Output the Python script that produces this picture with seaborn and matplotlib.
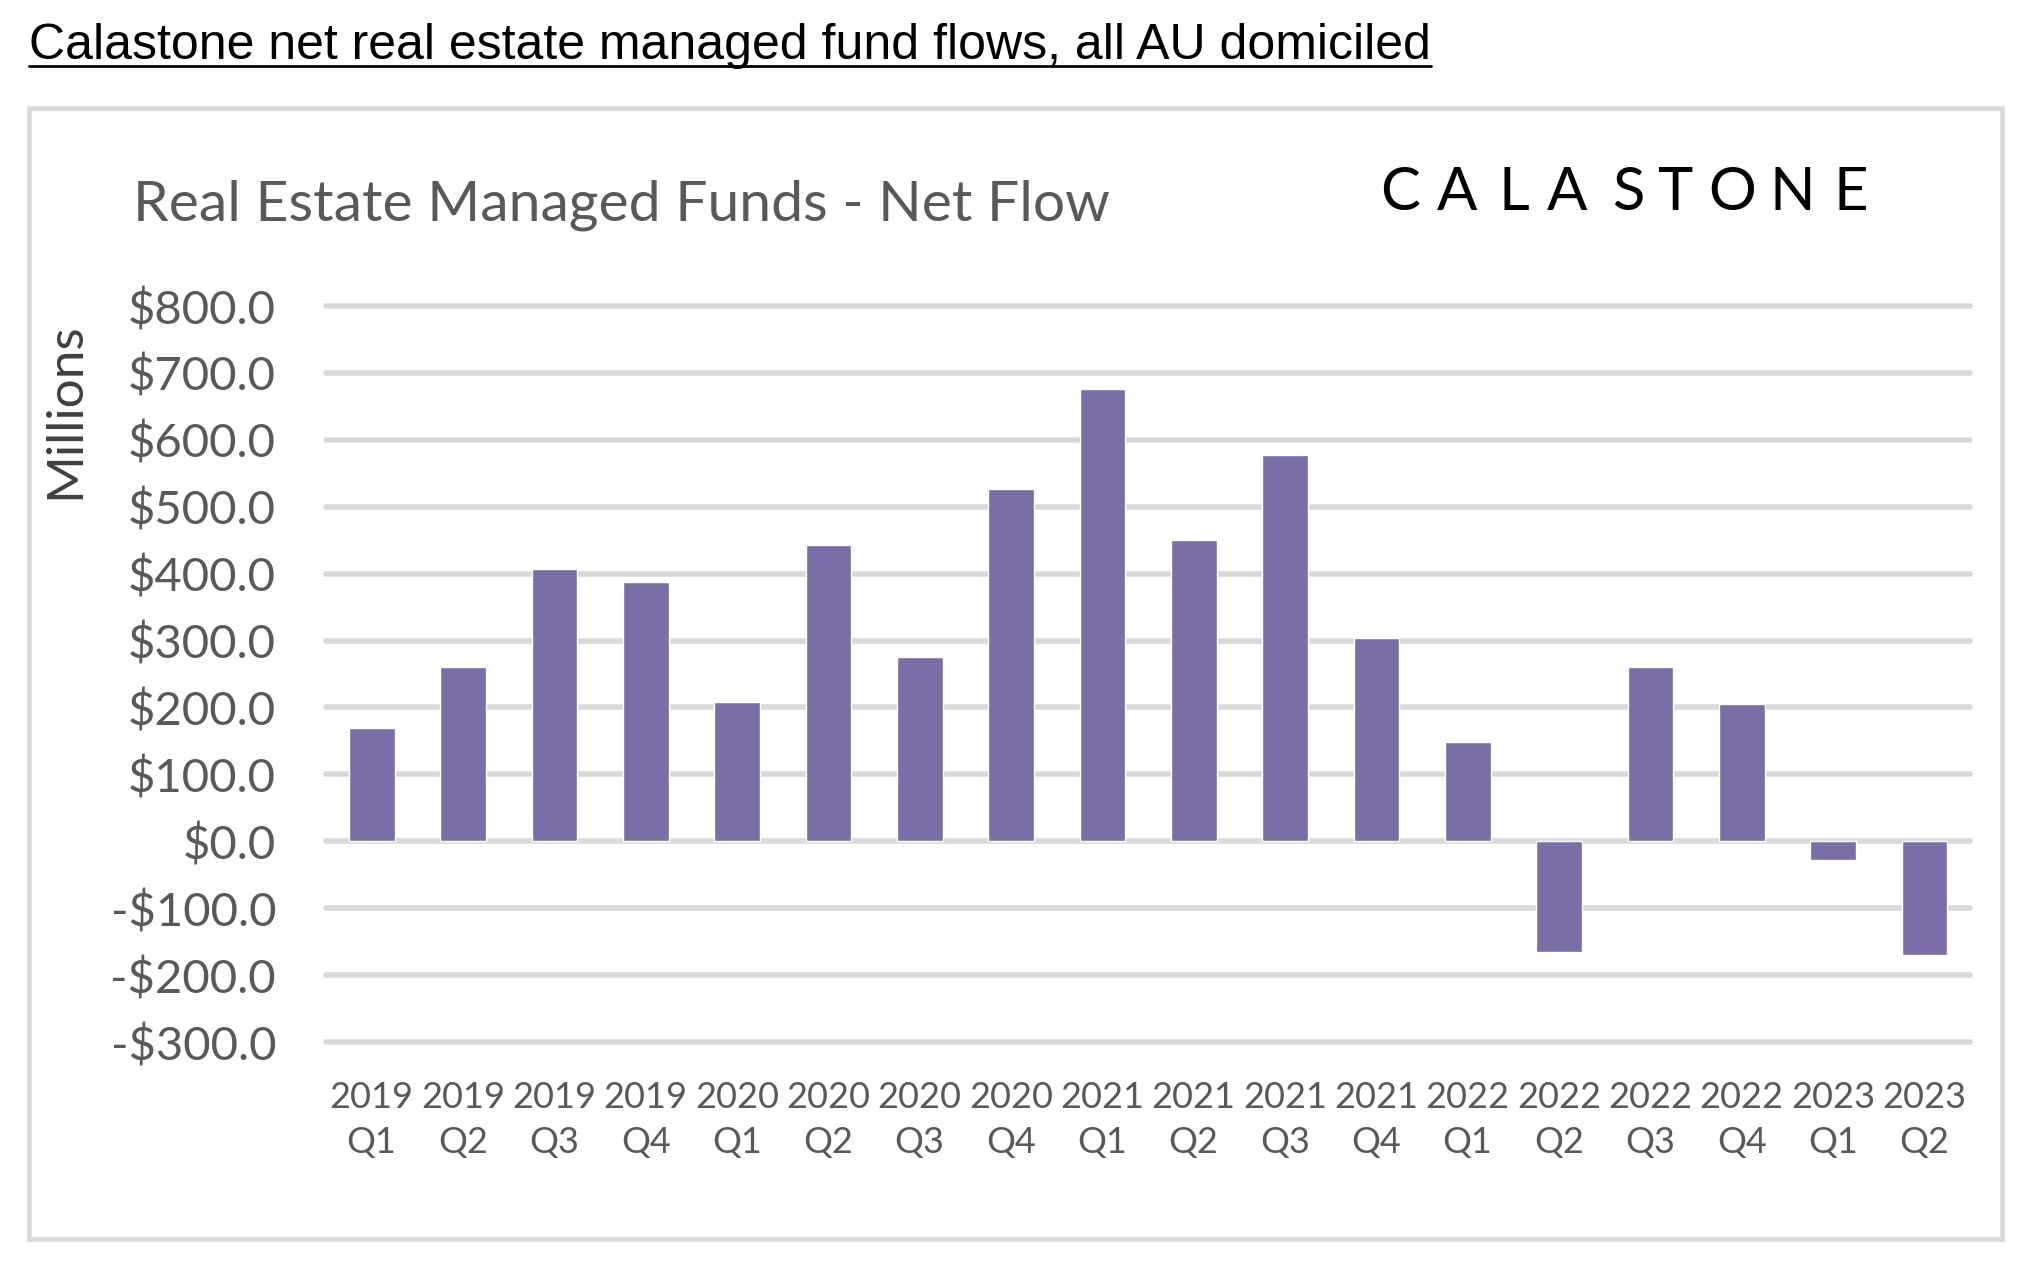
import matplotlib
matplotlib.use("Agg")
import matplotlib.pyplot as plt
import seaborn as sns
import pandas as pd
from matplotlib.patches import Rectangle
from matplotlib.lines import Line2D

# data ($ millions)
years = ["2019", "2019", "2019", "2019", "2020", "2020", "2020", "2020", "2021",
         "2021", "2021", "2021", "2022", "2022", "2022", "2022", "2023", "2023"]
quarters = ["Q1", "Q2", "Q3", "Q4", "Q1", "Q2", "Q3", "Q4", "Q1",
            "Q2", "Q3", "Q4", "Q1", "Q2", "Q3", "Q4", "Q1", "Q2"]
flows = [169, 261, 407, 387, 208, 443, 276, 526, 676,
         450, 577, 304, 149, -166, 261, 205, -28, -170]
ytick_values = [-300, -200, -100, 0, 100, 200, 300, 400, 500, 600, 700, 800]
ytick_labels = ["-$300.0", "-$200.0", "-$100.0", "$0.0", "$100.0", "$200.0",
                "$300.0", "$400.0", "$500.0", "$600.0", "$700.0", "$800.0"]

df = pd.DataFrame({"period": [y + "\n" + q for y, q in zip(years, quarters)],
                   "flow": flows})

sns.set_style("white")
plt.rcParams["font.family"] = ["Lato", "DejaVu Sans"]

W, H = 2035, 1286
fig = plt.figure(figsize=(W / 100, H / 100), dpi=100)
ax = fig.add_axes([326 / W, 1 - 1042 / H, (1970 - 326) / W, (1042 - 306) / H])

sns.barplot(data=df, x="period", y="flow", color="#7B6EA6", width=0.5,
            saturation=1, ax=ax)
ax.set_xlim(-0.5, len(flows) - 0.5)
ax.set_ylim(-300, 800)
ax.set_yticks(ytick_values, ytick_labels)
ax.grid(axis="y", color="#D9D9D9", linewidth=4)
ax.set_axisbelow(True)
for gl in ax.get_ygridlines():
    gl.set_clip_on(False)
sns.despine(ax=ax, left=True, bottom=True)
ax.tick_params(axis="y", length=0, pad=36, labelsize=34, labelcolor="#595959")
ax.tick_params(axis="x", length=0, pad=28, labelsize=26, labelcolor="#595959")
for lbl in ax.get_xticklabels():
    lbl.set_linespacing(1.45)
ax.set_xlabel("")
ax.set_ylabel("")

fig.text(65 / W, 1 - 411 / H, "Millions", rotation=90, ha="center", va="center",
         fontsize=37, color="#404040")
fig.text(133 / W, 1 - 205 / H, "Real Estate Managed Funds - Net Flow",
         fontsize=41, color="#595959", va="center")

# logo letters
logo_x = [1400, 1457, 1514, 1567, 1628, 1675, 1732, 1792, 1851]
for ch, x in zip("CALASTONE", logo_x):
    fig.text(x / W, 1 - 210 / H, ch, ha="center", va="baseline", fontsize=43,
             fontweight="normal", color="black")

# outer frame
fig.add_artist(Rectangle((29 / W, 1 - 1239 / H), (2002 - 29) / W, (1239 - 108) / H,
                         transform=fig.transFigure, fill=False,
                         edgecolor="#D9D9D9", linewidth=3.3))

title = fig.text(29 / W, 1 - 59 / H,
                 "Calastone net real estate managed fund flows, all AU domiciled",
                 fontsize=36, family=["Liberation Sans", "DejaVu Sans"],
                 va="baseline", color="black")
fig.canvas.draw()
bb = title.get_window_extent()
fig.add_artist(Line2D([bb.x0 / W, bb.x1 / W], [1 - 66 / H, 1 - 66 / H],
                      transform=fig.transFigure, color="black", linewidth=2))

fig.savefig("out.png", dpi=100)
